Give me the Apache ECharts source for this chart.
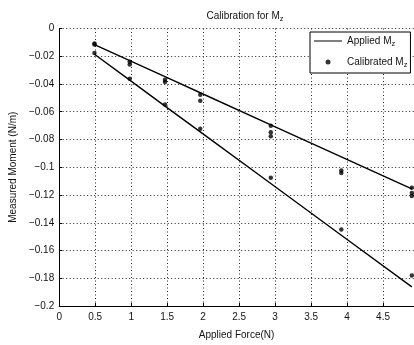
<!DOCTYPE html>
<html>
<head>
<meta charset="utf-8">
<script src="https://cdn.jsdelivr.net/npm/echarts@6/dist/echarts.min.js"></script>
<style>
  html, body { margin: 0; padding: 0; background: #fff; }
  #chart { width: 414px; height: 345px; }
</style>
</head>
<body>
<div id="chart"></div>
<script>
// Applied loads (N)
const forces = [0.49, 0.98, 1.47, 1.96, 2.94, 3.92, 4.9];

// Applied moment for the two load cases (N/m)
const appliedA = [-0.0116, -0.0231, -0.0347, -0.0463, -0.0694, -0.0925, -0.1156];
const appliedB = [-0.0186, -0.0372, -0.0559, -0.0745, -0.1117, -0.1490, -0.1862];

// Calibrated readings: [force, moment]
const calibrated = [
  [0.49, -0.0108], [0.49, -0.0115], [0.49, -0.0177],
  [0.98, -0.0240], [0.98, -0.0260], [0.98, -0.0362],
  [1.47, -0.0370], [1.47, -0.0385], [1.47, -0.0548],
  [1.96, -0.0478], [1.96, -0.0520], [1.96, -0.0722],
  [2.94, -0.0700], [2.94, -0.0748], [2.94, -0.0776], [2.94, -0.1076],
  [3.92, -0.1023], [3.92, -0.1042], [3.92, -0.1448],
  [4.9, -0.1148], [4.9, -0.1186], [4.9, -0.1207], [4.9, -0.1780]
];

const xTicks = [0, 0.5, 1, 1.5, 2, 2.5, 3, 3.5, 4, 4.5];

const font = 'Liberation Sans, Arial, Helvetica, sans-serif';
const sub = { fontSize: 7.5, verticalAlign: 'bottom', padding: [6, 0, 0, 0], fontFamily: font, color: '#111' };
const txt = { fontSize: 10, fontFamily: font, color: '#111' };

const chart = echarts.init(document.getElementById('chart'), null, { renderer: 'canvas' });

function fmtY(v) {
  const r = Math.round(v * 100) / 100;
  if (r === 0) return '0';
  return '\u2212' + String(Math.abs(r));
}

chart.setOption({
  animation: false,
  backgroundColor: '#fff',
  title: {
    text: 'Calibration for M{s|z}',
    left: 240, top: 4, textAlign: 'center',
    textStyle: { fontSize: 10, fontWeight: 'normal', fontFamily: font, color: '#111',
      rich: { s: sub } }
  },
  legend: {
    left: 310, top: 32,
    orient: 'vertical',
    itemWidth: 28, itemHeight: 5, itemGap: 9,
    padding: [4, 3, 4, 4],
    borderColor: '#000', borderWidth: 1,
    backgroundColor: '#fff',
    formatter: function (name) {
      return name === 'Applied' ? 'Applied M{s|z}' : 'Calibrated M{s|z}';
    },
    textStyle: { fontSize: 10, fontFamily: font, color: '#111', rich: { s: sub } },
    data: [
      { name: 'Applied', icon: 'path://M0,0 L28,0 L28,1 L0,1 Z', itemStyle: { color: '#000' } },
      { name: 'Calibrated', icon: 'circle', itemStyle: { color: '#000' } }
    ]
  },
  grid: { left: 56, top: 28.5, right: 0, bottom: 33.5, show: false },
  xAxis: {
    type: 'value', min: 0, max: 4.93, interval: 0.5,
    name: 'Applied Force(N)', nameLocation: 'middle', nameGap: 24,
    nameTextStyle: txt,
    axisLine: { show: true, onZero: false, lineStyle: { color: '#000', width: 1 } },
    axisTick: { show: true, inside: true, length: 3, lineStyle: { color: '#000' } },
    axisLabel: {
      ...txt, margin: 6, showMaxLabel: false,
      formatter: function (v) { return xTicks.indexOf(v) >= 0 ? String(v) : ''; }
    },
    splitLine: { show: true, lineStyle: { color: '#222', type: [1, 2.5], width: 1 } }
  },
  yAxis: {
    type: 'value', min: -0.2, max: 0, interval: 0.02,
    name: 'Measured Moment (N/m)', nameLocation: 'middle', nameGap: 37,
    nameTextStyle: txt,
    axisLine: { show: true, onZero: false, lineStyle: { color: '#000', width: 1 } },
    axisTick: { show: true, inside: true, length: 3, lineStyle: { color: '#000' } },
    axisLabel: { ...txt, margin: 5, formatter: fmtY },
    splitLine: { show: true, lineStyle: { color: '#222', type: [1, 2.5], width: 1 } }
  },
  series: [
    {
      name: 'Applied', type: 'line', symbol: 'none',
      lineStyle: { color: '#000', width: 1.4 },
      data: forces.map((f, i) => [f, appliedA[i]])
    },
    {
      name: 'Applied', type: 'line', symbol: 'none',
      lineStyle: { color: '#000', width: 1.4 },
      data: forces.map((f, i) => [f, appliedB[i]])
    },
    {
      name: 'Calibrated', type: 'scatter', symbol: 'circle', symbolSize: 4.5,
      itemStyle: { color: '#000' },
      data: calibrated
    }
  ]
});
</script>
</body>
</html>
